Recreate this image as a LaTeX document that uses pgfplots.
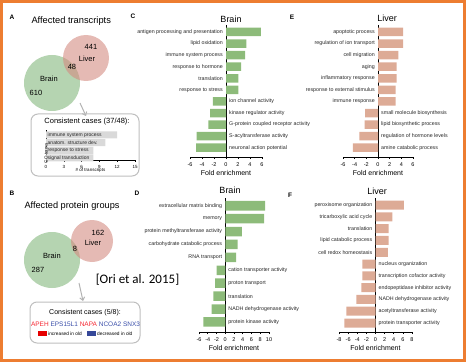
\documentclass[border=0pt]{standalone}
\usepackage{pgfplots}
\pgfplotsset{compat=1.18}
\usepackage{pgfplotstable}
\usepackage{fontspec}
\setmainfont{Liberation Sans}
\newfontfamily\carlito{Carlito}
\usetikzlibrary{arrows.meta}
\newcommand\fs[1]{\fontsize{#1}{#1}\selectfont}
\definecolor{gbar}{RGB}{141,187,122}
\definecolor{pbar}{RGB}{221,171,150}
\definecolor{vgreen}{RGB}{121,176,113}
\definecolor{vpink}{RGB}{212,140,130}
\definecolor{border}{RGB}{237,125,49}
\definecolor{gred}{RGB}{245,40,50}
\definecolor{gblue}{RGB}{60,80,170}

\pgfplotstableread[col sep=comma,row sep=\\]{
y,v,label\\
1,5.8,antigen processing and presentation\\
2,3.4,lipid oxidation\\
3,3.2,immune system process\\
4,2.5,response to hormone\\
5,2.05,translation\\
6,2.05,response to stress\\
}\Cpos
\pgfplotstableread[col sep=comma,row sep=\\]{
y,v,label\\
7,-2.2,ion channel activity\\
8,-2.65,kinase regulator activity\\
9,-2.95,G-protein coupled receptor activity\\
10,-4.9,S-acyltransferase activity\\
11,-5.0,neuronal action potential\\
}\Cneg
\pgfplotstableread[col sep=comma,row sep=\\]{
y,v,label\\
1,4.3,apoptotic process\\
2,4.3,regulation of ion transport\\
3,3.5,cell migration\\
4,3.2,aging\\
5,3.2,inflammatory response\\
6,3.0,response to external stimulus\\
7,3.0,immune response\\
}\Epos
\pgfplotstableread[col sep=comma,row sep=\\]{
y,v,label\\
8,-2.2,small molecule biosynthesis\\
9,-2.3,lipid biosynthetic process\\
10,-3.2,regulation of hormone levels\\
11,-4.3,amine catabolic process\\
}\Eneg
\pgfplotstableread[col sep=comma,row sep=\\]{
y,v,label\\
1,9.1,extracellular matrix binding\\
2,8.9,memory\\
3,3.8,protein methyltransferase activity\\
4,2.8,carbohydrate catabolic process\\
5,2.5,RNA transport\\
}\Dpos
\pgfplotstableread[col sep=comma,row sep=\\]{
y,v,label\\
6,-2.0,cation transporter activity\\
7,-2.3,proton transport\\
8,-2.7,translation\\
9,-3.1,NADH dehydrogenase activity\\
10,-5.0,protein kinase activity\\
}\Dneg
\pgfplotstableread[col sep=comma,row sep=\\]{
y,v,label\\
1,6.2,peroxisome organization\\
2,3.7,tricarboxylic acid cycle\\
3,2.9,translation\\
4,2.9,lipid catabolic process\\
5,2.7,cell redox homeostasis\\
}\Fpos
\pgfplotstableread[col sep=comma,row sep=\\]{
y,v,label\\
6,-2.9,nucleus organization\\
7,-2.9,transcription cofactor activity\\
8,-3.1,endopeptidase inhibitor activity\\
9,-4.2,NADH dehydrogenase activity\\
10,-6.4,acetyltransferase activity\\
11,-6.8,protein transporter activity\\
}\Fneg
\pgfplotstableread[col sep=comma,row sep=\\]{
y,v,label\\
1,12,immune system process\\
2,10,anatom. structure dev.\\
3,8,response to stress\\
4,8,signal transduction\\
}\Ains

\pgfplotsset{
  fbar/.style={
    scale only axis, anchor=south west, y dir=reverse,
    axis x line=bottom, axis y line=none, ytick=\empty,
    axis line style={-, line width=0.6pt},
    xtick align=outside, major tick length=2pt,
    tick style={black, line width=0.6pt},
    ticklabel style={font=\fs{5.5}},
    /pgf/number format/assume math mode=true,
    extra x ticks={0}, extra x tick labels={},
    extra x tick style={grid=major, major grid style={black, line width=0.6pt}, major tick length=0pt},
    clip=false,
    xlabel={Fold enrichment},
    xlabel style={font=\fs{7}, at={(axis description cs:0.5,0)}, anchor=center, yshift=-16pt},
  },
  poslab/.style={draw=none, mark=none, nodes near coords, point meta=explicit symbolic,
    nodes near coords align={left},
    every node near coord/.append style={font=\fs{5.3}, text=black!85, inner sep=0pt, xshift=-3pt}},
  neglab/.style={draw=none, mark=none, nodes near coords, point meta=explicit symbolic,
    nodes near coords align={right},
    every node near coord/.append style={font=\fs{5.3}, text=black!85, inner sep=0pt, xshift=3pt}},
}

\begin{document}
\begin{tikzpicture}[x=1pt,y=1pt]
\useasboundingbox (0,0) rectangle (468,362);
\draw[border, line width=2.7pt] (1.3,1.3) rectangle (464.5,360.7);

% ---------- Panel A ----------
\node[font=\bfseries\fs{6.5}] at (12,345) {A};
\node[anchor=west, font=\fs{9.3}] at (28,341) {Affected transcripts};
\fill[vgreen, fill opacity=0.55] (52,279) circle (28);
\fill[vpink, fill opacity=0.6] (86,304) circle (23);
\node[font=\fs{7.5}] at (91,315) {441};
\node[font=\fs{7.5}] at (87,303) {Liver};
\node[font=\fs{7.5}] at (72,295) {48};
\node[font=\fs{7.5}] at (49,283) {Brain};
\node[font=\fs{7.5}] at (36,269) {610};
\draw[gray!60, line width=1pt, -{Straight Barb[length=3pt,width=5pt]}] (80,259) -- (86,246);
\draw[gray!50, line width=1pt, rounded corners=7pt] (31,186) rectangle (139,248);
\node[font=\fs{7.5}] at (87,240) {Consistent cases (37/48):};

\begin{axis}[scale only axis, anchor=south west, at={(46pt,201.7pt)}, width=89pt, height=30pt,
  xmin=0, xmax=15, ymin=0.4, ymax=4.3, y dir=reverse,
  axis x line=bottom, axis y line=left, axis line style={-, line width=0.6pt},
  ytick=\empty, xtick={0,3,...,15}, xtick align=outside, major tick length=1.5pt,
  tick style={black, line width=0.5pt},
  ticklabel style={font=\fs{4.5}}, /pgf/number format/assume math mode=true,
  xlabel={\# of transcripts}, xlabel style={font=\fs{4.5}, at={(axis description cs:0.5,0)}, anchor=center, yshift=-10pt},
  ylabel={GO terms}, ylabel style={font=\fs{4.5}, at={(axis description cs:0,0.5)}, anchor=center, xshift=-8pt},
  clip=false]
\addplot[xbar, bar shift=0pt, bar width=7pt, fill=black!15, draw=none] table[x=v,y=y]{\Ains};
\addplot[draw=none, mark=none, nodes near coords, point meta=explicit symbolic,
  nodes near coords align={right},
  every node near coord/.append style={font=\fs{5}, text=black!85, inner sep=0pt, xshift=1.5pt}]
  table[x expr=0,y=y,meta=label]{\Ains};
\end{axis}

% ---------- Panel B ----------
\node[font=\bfseries\fs{6.5}] at (12,169) {B};
\node[anchor=west, font=\fs{9.2}] at (21,156) {Affected protein groups};
\fill[vgreen, fill opacity=0.55] (52,102) circle (28);
\fill[vpink, fill opacity=0.6] (92,121) circle (21);
\node[font=\fs{7.5}] at (98,129) {162};
\node[font=\fs{7.5}] at (93,119) {Liver};
\node[font=\fs{7.5}] at (75,113) {8};
\node[font=\fs{7.5}] at (52,106) {Brain};
\node[font=\fs{7.5}] at (38,92) {287};
\draw[gray!60, line width=1pt, -{Straight Barb[length=3pt,width=5pt]}] (79,79) -- (83,61);
\draw[gray!50, line width=1pt, rounded corners=7pt] (30,19) rectangle (140,60);
\node[font=\fs{7}] at (85,49) {Consistent cases (5/8):};
\node[font=\fs{6.5}] at (85.5,38) {\textcolor{gred}{APEH} \textcolor{gblue}{EPS15L1} \textcolor{gred}{NAPA} \textcolor{gblue}{NCOA2} \textcolor{gblue}{SNX3}};
\fill[red!90!black] (38,26) rectangle (47,31);
\node[anchor=west, font=\fs{4.8}, inner sep=0.5pt] at (47.5,28.5) {increased in old};
\fill[gblue!90!black] (87,26) rectangle (96,31);
\node[anchor=west, font=\fs{4.8}, inner sep=0.5pt] at (96.5,28.5) {decreased in old};
\node[font=\carlito\fs{13}] at (137.5,82) {[Ori et al. 2015]};

% ---------- Panel C ----------
\node[font=\bfseries\fs{6.5}] at (133,346) {C};
\node[font=\fs{9}] at (231,343) {Brain};
\begin{axis}[fbar, at={(190pt,205pt)}, width=72pt, height=132pt,
  xmin=-6, xmax=6, ymin=0.4, ymax=11.8, xtick={-6,-4,...,6}]
\addplot[xbar, bar shift=0pt, bar width=8.5pt, fill=gbar, draw=none] table[x=v,y=y]{\Cpos};
\addplot[xbar, bar shift=0pt, bar width=8.5pt, fill=gbar, draw=none] table[x=v,y=y]{\Cneg};
\addplot[poslab] table[x expr=0,y=y,meta=label]{\Cpos};
\addplot[neglab] table[x expr=0,y=y,meta=label]{\Cneg};
\end{axis}

% ---------- Panel E ----------
\node[font=\bfseries\fs{6.5}] at (292,345) {E};
\node[font=\fs{9}] at (387,344) {Liver};
\begin{axis}[fbar, at={(343pt,205pt)}, width=70pt, height=132pt,
  xmin=-6, xmax=6, ymin=0.4, ymax=11.8, xtick={-6,-4,...,6}]
\addplot[xbar, bar shift=0pt, bar width=8.5pt, fill=pbar, draw=none] table[x=v,y=y]{\Epos};
\addplot[xbar, bar shift=0pt, bar width=8.5pt, fill=pbar, draw=none] table[x=v,y=y]{\Eneg};
\addplot[poslab] table[x expr=0,y=y,meta=label]{\Epos};
\addplot[neglab] table[x expr=0,y=y,meta=label]{\Eneg};
\end{axis}

% ---------- Panel D ----------
\node[font=\bfseries\fs{6.5}] at (137,169) {D};
\node[font=\fs{9}] at (230,172) {Brain};
\begin{axis}[fbar, at={(199pt,30pt)}, width=70pt, height=134pt,
  xmin=-6, xmax=10, ymin=0.4, ymax=10.78, xtick={-6,-4,...,10}]
\addplot[xbar, bar shift=0pt, bar width=9.5pt, fill=gbar, draw=none] table[x=v,y=y]{\Dpos};
\addplot[xbar, bar shift=0pt, bar width=9.5pt, fill=gbar, draw=none] table[x=v,y=y]{\Dneg};
\addplot[poslab] table[x expr=0,y=y,meta=label]{\Dpos};
\addplot[neglab] table[x expr=0,y=y,meta=label]{\Dneg};
\end{axis}

% ---------- Panel F ----------
\node[font=\bfseries\fs{6.5}] at (290,167) {F};
\node[font=\fs{9}] at (377,171) {Liver};
\begin{axis}[fbar, at={(339pt,30pt)}, width=73pt, height=134pt,
  xmin=-8, xmax=8, ymin=0.4, ymax=11.76, xtick={-8,-6,...,8}]
\addplot[xbar, bar shift=0pt, bar width=9pt, fill=pbar, draw=none] table[x=v,y=y]{\Fpos};
\addplot[xbar, bar shift=0pt, bar width=9pt, fill=pbar, draw=none] table[x=v,y=y]{\Fneg};
\addplot[poslab] table[x expr=0,y=y,meta=label]{\Fpos};
\addplot[neglab] table[x expr=0,y=y,meta=label]{\Fneg};
\end{axis}
\end{tikzpicture}
\end{document}
